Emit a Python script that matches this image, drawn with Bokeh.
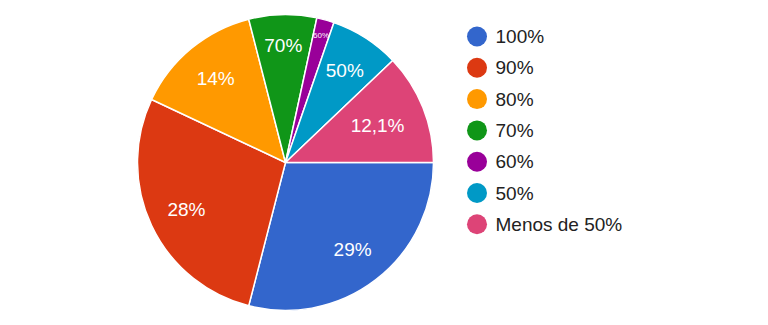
import math
from bokeh.plotting import figure
from bokeh.models import Range1d, ColumnDataSource
from bokeh.core.properties import value
from bokeh.embed import file_html
from bokeh.resources import INLINE

categories = ["100%", "90%", "80%", "70%", "60%", "50%", "Menos de 50%"]
shares = [29.0, 28.0, 14.0, 7.4, 1.9, 7.6, 12.1]
slice_labels = ["29%", "28%", "14%", "70%", "60%", "50%", "12,1%"]
colors = ["#3366cc", "#dc3912", "#ff9900", "#109618", "#990099", "#0099c6", "#dd4477"]

W, H = 768, 325
cx, cy, R = 285, 325 - 162, 148
label_r = [0.74, 0.74, 0.74, 0.79, 0.89, 0.74, 0.67]
label_size = ["19px", "19px", "19px", "19px", "8px", "19px", "19px"]

total = sum(shares)
starts, ends, lx, ly = [], [], [], []
acc = 0.0
for i, s in enumerate(shares):
    a0 = -2 * math.pi * acc / total
    acc += s
    a1 = -2 * math.pi * acc / total
    starts.append(a0)
    ends.append(a1)
    mid = (a0 + a1) / 2
    lx.append(cx + R * label_r[i] * math.cos(mid))
    ly.append(cy + R * label_r[i] * math.sin(mid))

p = figure(width=W, height=H, output_backend="svg", toolbar_location=None,
           x_range=Range1d(0, W), y_range=Range1d(0, H),
           x_axis_location=None, y_axis_location=None, min_border=0)
p.outline_line_color = None
p.grid.visible = False
p.background_fill_color = "white"

src = ColumnDataSource(dict(start=starts, end=ends, color=colors))
p.wedge(x=cx, y=cy, radius=R, start_angle="start", end_angle="end",
        direction="clock", fill_color="color", line_color="white",
        line_width=1.5, source=src)

lsrc = ColumnDataSource(dict(x=lx, y=ly, t=slice_labels, fs=label_size))
p.text(x="x", y="y", text="t", source=lsrc, text_color="white",
       text_font=value("Liberation Sans"), text_font_size="fs",
       text_align="center", text_baseline="middle")

# legend
leg_x = [476.5] * len(categories)
leg_y = [H - (36 + 31.3 * i) for i in range(len(categories))]
p.scatter(x=leg_x, y=leg_y, size=20, marker="circle", fill_color=colors, line_color=None)
p.text(x=[495] * len(categories), y=leg_y, text=categories, text_color="#222222",
       text_font=value("Liberation Sans"), text_font_size="19px",
       text_align="left", text_baseline="middle")

open("out.html", "w").write(file_html(p, INLINE))
